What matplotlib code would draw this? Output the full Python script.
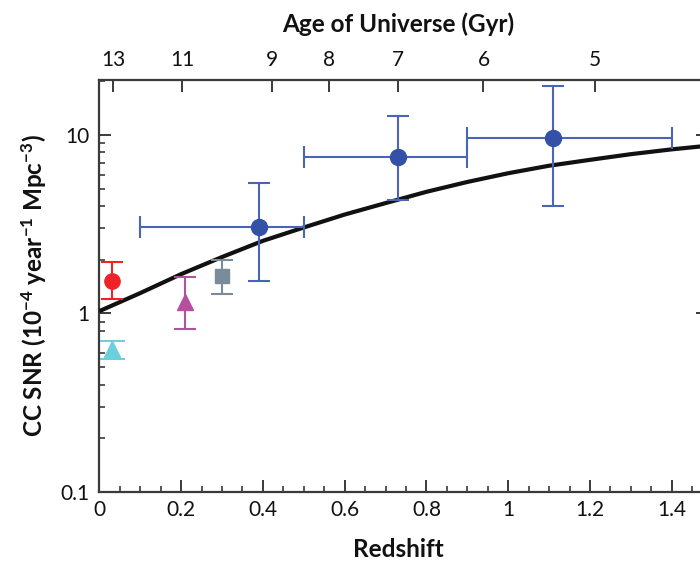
import numpy as np
import matplotlib
matplotlib.use("Agg")
import matplotlib.pyplot as plt

plt.rcParams['font.family'] = ['Lato', 'DejaVu Sans']
plt.rcParams['mathtext.fontset'] = 'custom'
plt.rcParams['mathtext.rm'] = 'Lato:bold'
plt.rcParams['mathtext.bf'] = 'Lato:bold'
plt.rcParams['mathtext.it'] = 'Lato:bold'

# ---- data ----
curve_z = [0.0, 0.1, 0.2, 0.3, 0.4, 0.5, 0.6, 0.7, 0.8, 0.9, 1.0, 1.1, 1.2, 1.3, 1.4, 1.5]
curve_snr = [1.03, 1.30, 1.66, 2.07, 2.55, 3.03, 3.58, 4.15, 4.80, 5.45, 6.10, 6.72, 7.25, 7.80, 8.30, 8.75]

blue_z = [0.39, 0.73, 1.11]
blue_snr = [3.05, 7.55, 9.66]
blue_lo = [1.51, 4.31, 4.0]
blue_hi = [5.4, 12.7, 18.7]
blue_zlo = [0.10, 0.50, 0.90]
blue_zhi = [0.50, 0.90, 1.40]

red_z, red_snr, red_lo, red_hi = 0.03, 1.51, 1.21, 1.94
cyan_z, cyan_snr, cyan_lo, cyan_hi = 0.03, 0.63, 0.557, 0.70
mag_z, mag_snr, mag_lo, mag_hi = 0.21, 1.16, 0.82, 1.59
grey_z, grey_snr, grey_lo, grey_hi = 0.30, 1.63, 1.29, 1.99

age_ticks = [13, 11, 9, 8, 7, 6, 5]

x_ticks = [0, 0.2, 0.4, 0.6, 0.8, 1.0, 1.2, 1.4]
x_ticklabels = ['0', '0.2', '0.4', '0.6', '0.8', '1', '1.2', '1.4']
y_ticks = [0.1, 1, 10]
y_ticklabels = ['0.1', '1', '10']


def z_of_age(t, H0=70.0, Om=0.3):
    OL = 1 - Om
    th = 977.8 / H0  # Gyr
    pref = 2.0 / (3.0 * np.sqrt(OL)) * th
    s = np.sinh(t / pref)
    return (s / np.sqrt(OL / Om)) ** (-2.0 / 3.0) - 1.0


X_RIGHT_PX = 708.0
XMAX = (X_RIGHT_PX - 99.3) / 408.9

fig = plt.figure(figsize=(7.0, 5.63), dpi=100)
ax = fig.add_axes([99.3 / 700, 1 - 492 / 563, (X_RIGHT_PX - 99.3) / 700, (492 - 80) / 563])
ax.set_yscale('log')
ax.set_xlim(0, XMAX)
ax.set_ylim(0.1, 20.3)

spine_c = '#3a3a3a'
for s in ax.spines.values():
    s.set_color(spine_c)
    s.set_linewidth(1.6)

ax.plot(curve_z, curve_snr, color='#111111', lw=3.0, zorder=3, solid_capstyle='butt')

blue_line = '#4a64b6'
blue_mark = '#3451a8'
ax.errorbar(blue_z, blue_snr,
            yerr=[np.array(blue_snr) - np.array(blue_lo), np.array(blue_hi) - np.array(blue_snr)],
            xerr=[np.array(blue_z) - np.array(blue_zlo), np.array(blue_zhi) - np.array(blue_z)],
            fmt='o', ms=11.5, color=blue_mark, ecolor=blue_line, elinewidth=1.5,
            capsize=8, capthick=1.5, zorder=4)

def single(z, v, lo, hi, marker, col, ms, cs=8):
    ax.errorbar([z], [v], yerr=[[v - lo], [hi - v]], fmt=marker, ms=ms, color=col,
                ecolor=col, elinewidth=1.5, capsize=cs, capthick=1.5, zorder=4)

single(red_z, red_snr, red_lo, red_hi, 'o', '#ee2227', 11)
single(cyan_z, cyan_snr, cyan_lo, cyan_hi, '^', '#6ccfdc', 11, 9)
single(mag_z, mag_snr, mag_lo, mag_hi, '^', '#b5509c', 12)
single(grey_z, grey_snr, grey_lo, grey_hi, 's', '#7a8b9a', 10, 8)

ax.set_xticks(x_ticks)
ax.set_xticklabels(x_ticklabels)
ax.set_xticks(np.arange(0, XMAX, 0.05), minor=True)
ax.set_yticks(y_ticks)
ax.set_yticklabels(y_ticklabels)
ax.yaxis.set_minor_locator(matplotlib.ticker.LogLocator(base=10, subs=np.arange(2, 10)))
ax.yaxis.set_minor_formatter(matplotlib.ticker.NullFormatter())

ax.tick_params(axis='both', which='major', direction='in', length=8.5, width=1.4,
               color=spine_c, labelsize=15, labelcolor='#111111')
ax.tick_params(axis='both', which='minor', direction='in', length=4.5, width=1.2, color=spine_c)
ax.tick_params(axis='x', which='both', top=False, pad=6)
ax.tick_params(axis='y', which='major', right=True, pad=7)
ax.tick_params(axis='y', which='minor', right=False)

ax.set_xlabel('Redshift', fontsize=17.5, fontweight='bold', color='#111111')
ax.set_ylabel(r'CC SNR (10$^{\mathbf{-4}}$ year$^{\mathbf{-1}}$ Mpc$^{\mathbf{-3}}$)',
              fontsize=17.5, fontweight='bold', labelpad=8, color='#111111')

ax2 = ax.twiny()
ax2.set_xlim(ax.get_xlim())
ax2.set_xticks([z_of_age(t) for t in age_ticks])
ax2.set_xticklabels([str(t) for t in age_ticks])
ax2.tick_params(axis='x', which='major', direction='in', length=8.5, width=1.4,
                color=spine_c, labelsize=15, pad=7, labelcolor='#111111')
ax2.set_xlabel('Age of Universe (Gyr)', fontsize=17.5, fontweight='bold', color='#111111')
ax2.xaxis.set_label_coords((398 - 99.3) / (X_RIGHT_PX - 99.3), 1.0 + 48 / 412)
ax.xaxis.set_label_coords((398 - 99.3) / (X_RIGHT_PX - 99.3), -46 / 412)
for s in ax2.spines.values():
    s.set_visible(False)

fig.savefig('out.png', dpi=100)
